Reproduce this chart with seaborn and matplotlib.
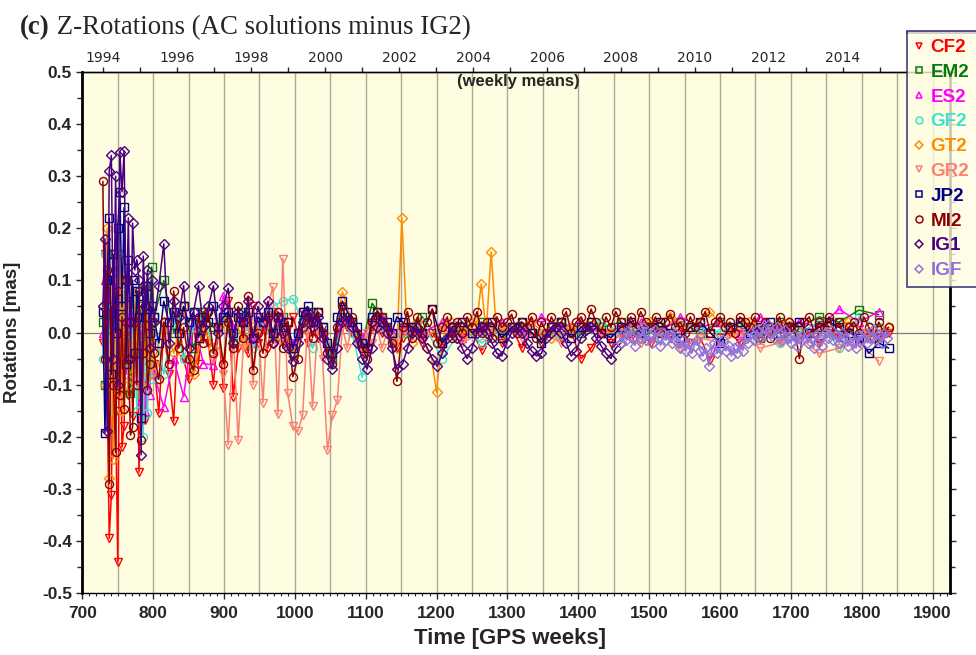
import numpy as np
import pandas as pd
import matplotlib
matplotlib.use("Agg")
import matplotlib.pyplot as plt
import matplotlib.transforms as mtrans
import seaborn as sns
from matplotlib.ticker import MultipleLocator, FormatStrFormatter, FixedLocator
from matplotlib.lines import Line2D

# ---------------- data (weekly means, mas) ----------------
# early segment: weeks 729, 732, ... (step 3)
IG1_E = [0.05, 0.18, -0.19, 0.31, 0.34, -0.05, 0.30, -0.10, 0.347, 0.27, 0.348, 0.02,
         0.22, -0.05, 0.21, 0.12, 0.14, 0.10, -0.235, 0.147, 0.05, 0.12, -0.03, 0.10]
MI2_E = [0.29, -0.05, 0.12, -0.29, 0.05, -0.10, -0.23, 0.08, -0.12, 0.03, -0.146, 0.10,
         -0.05, -0.197, -0.181, 0.02, -0.10, 0.08, -0.206, -0.04, 0.05, -0.11, -0.06, 0.02]
JP2_E = [0.04, -0.192, 0.10, 0.22, -0.08, 0.15, 0.00, 0.20, 0.27, 0.05, 0.24, -0.06,
         0.14, 0.02, 0.10, -0.04, 0.08, 0.03, -0.164, 0.07, 0.03, 0.09, 0.00, 0.05]
CF2_E = [-0.02, 0.15, -0.10, -0.395, -0.312, 0.05, -0.15, -0.44, 0.10, -0.22, -0.18, 0.06,
         -0.12, 0.02, -0.16, -0.05, 0.03, -0.268, -0.10, -0.05, -0.168, 0.00, -0.08, -0.02]
EM2_E = [0.02, -0.10, 0.15, 0.05, -0.08, 0.10, -0.03, 0.12, 0.00, 0.08, -0.05, 0.10,
         0.02, -0.117, 0.06, 0.00, 0.08, -0.04, 0.05, 0.02, 0.09, -0.02, 0.04, 0.126]
ES2_E = [0.00, 0.10, -0.05, 0.08, 0.02, -0.06, 0.12, 0.00, 0.06, -0.04, 0.05, -0.08,
         0.03, -0.02, 0.04, -0.10, 0.02, -0.06, -0.13, 0.00, -0.15, -0.05, -0.12, 0.01]
GF2_E = [-0.05, 0.15, 0.00, -0.15, 0.10, 0.05, -0.08, 0.12, 0.03, -0.06, 0.08, 0.00,
         -0.10, 0.05, -0.03, 0.07, -0.15, 0.02, -0.05, -0.20, 0.04, -0.155, 0.00, -0.09]
GT2_E = [0.05, -0.10, 0.20, -0.28, 0.10, -0.242, 0.08, -0.05, 0.15, -0.15, 0.05, 0.10,
         -0.10, 0.02, -0.08, 0.06, -0.02, 0.04, -0.10, 0.01, -0.05, 0.03, -0.08, 0.00]

# middle segment: weeks 801, 808, ... (step 7)
IG1_M = [0.02, 0.09, 0.17, -0.02, 0.06, 0.03, 0.09, -0.03, 0.04, 0.09,
         0.01, 0.05, 0.09, 0.00, 0.05, 0.085, -0.02, 0.04, 0.02, 0.06,
         -0.01, 0.05, 0.02, 0.06, -0.02, 0.03, 0.00, -0.03, -0.055, -0.02,
         0.02, 0.04, 0.01, 0.03, -0.01, -0.05, -0.07, -0.03, 0.02, 0.03,
         0.01, -0.02, -0.05, -0.07, -0.03, 0.01, 0.02, 0.00, -0.03, -0.07]
MI2_M = [-0.04, -0.09, 0.02, -0.06, 0.08, -0.03, 0.01, -0.05, -0.072, 0.03,
         -0.02, 0.04, -0.04, 0.01, -0.06, 0.02, -0.03, 0.05, -0.01, 0.07,
         -0.072, 0.00, -0.04, 0.03, -0.02, 0.04, -0.03, 0.02, -0.085, -0.05,
         0.01, 0.03, -0.01, 0.04, 0.00, -0.04, -0.06, 0.01, 0.05, 0.02,
         0.03, 0.00, -0.03, -0.05, 0.02, 0.04, 0.03, 0.01, -0.02, -0.094]
JP2_M = [0.03, -0.02, 0.06, 0.02, 0.04, 0.00, 0.05, 0.02, 0.04, -0.01,
         0.03, 0.02, 0.05, 0.01, 0.03, 0.04, 0.00, 0.03, 0.02, 0.04,
         -0.01, 0.03, 0.02, 0.04, 0.00, 0.03, 0.01, 0.02, -0.03, 0.00,
         0.04, 0.05, 0.02, 0.04, 0.01, -0.02, -0.04, 0.03, 0.06, 0.04,
         0.02, 0.01, -0.02, -0.03, 0.03, 0.04, 0.02, 0.02, 0.00, 0.03]
CF2_M = [-0.06, -0.155, 0.01, -0.08, -0.17, 0.03, -0.05, -0.09, 0.02, -0.06,
         0.04, -0.02, -0.10, 0.01, -0.107, 0.06, -0.123, -0.03, 0.02, -0.04,
         0.05, -0.02, 0.01, -0.03, 0.04, -0.01, 0.02, -0.02, 0.03, 0.00,
         0.04, -0.02, 0.02, -0.01, 0.01, -0.03, -0.05, 0.00, 0.02, 0.01,
         0.00, -0.01, -0.02, -0.04, 0.01, 0.02, 0.00, 0.01, -0.02, -0.03]
# middle segment, sparser: weeks 801, 815, ... (step 14)
EM2_M = [0.03, 0.10, 0.00, 0.05, -0.03, 0.04, 0.01, 0.03, -0.02, 0.04, 0.00, 0.02, -0.01,
         0.03, -0.04, 0.02, 0.04, 0.00, -0.05, 0.03, 0.02, -0.02, 0.056, 0.03, -0.01]
ES2_M = [-0.08, -0.143, -0.05, -0.123, 0.02, -0.06, -0.062, 0.07, 0.01, 0.03, -0.02, 0.02, 0.00,
         0.03, -0.02, 0.01, 0.03, 0.00, -0.03, 0.02, 0.01, -0.01, 0.02, 0.03, 0.00]
GF2_M = [0.02, -0.08, 0.03, -0.05, 0.01, 0.03, -0.03, 0.02, 0.00, 0.04, -0.03, 0.02, 0.05,
         0.06, 0.065, 0.02, -0.03, 0.01, -0.06, 0.02, 0.00, -0.086, 0.03, 0.01, -0.02]
GT2_M = [-0.06, 0.02, -0.04, 0.05, -0.08, 0.01, -0.03, 0.02, 0.04, -0.02, 0.01, 0.03, -0.01,
         0.02, -0.04, 0.01, 0.03, 0.00, -0.03, 0.078, 0.02, -0.02, 0.01, 0.02, -0.01]
# GR2 starts later: weeks 885, 892, ... (step 7)
GR2_M = [-0.05, 0.02, -0.08, -0.215, 0.00, -0.207, -0.03, 0.03, -0.10, 0.02,
         -0.135, 0.05, 0.088, -0.157, 0.142, -0.117, -0.18, -0.19, -0.159, 0.02,
         -0.142, 0.01, -0.05, -0.226, -0.158, -0.13, 0.01, -0.03, 0.02, -0.02,
         -0.04, 0.00, -0.02, 0.01, -0.03, 0.00, -0.02, -0.01]
# GT2 outlier period: weeks 1144, 1151, ... (step 7)
GT2_S = [-0.03, 0.22, 0.01, -0.02, 0.02, 0.00, -0.03, -0.05, -0.115, -0.02, 0.01,
         0.02, -0.01, 0.01, 0.00, 0.02, 0.01, 0.093, 0.00, 0.155, 0.01, -0.01]

# late segment, dense: weeks 1152, 1159, ... (step 7)
IG1_L = [-0.06, -0.03, 0.00, 0.01, -0.01, -0.03, -0.05, -0.065, -0.04, -0.01,
         0.01, -0.01, -0.03, -0.05, -0.03, 0.00, 0.01, 0.00, -0.02, -0.04,
         -0.045, -0.02, 0.00, 0.01, 0.00, -0.02, -0.035, -0.045, -0.04, -0.01,
         0.00, 0.01, 0.00, -0.02, -0.045, -0.035, -0.01, 0.005, 0.01, -0.01,
         -0.025, -0.04, -0.05, -0.03, -0.02]
MI2_L = [0.01, 0.04, -0.01, 0.03, 0.00, 0.02, 0.045, -0.02, 0.01, 0.03,
         -0.01, 0.02, 0.00, 0.03, 0.01, 0.04, 0.00, 0.02, -0.01, 0.03,
         0.01, 0.02, 0.035, 0.00, 0.02, 0.01, 0.03, -0.01, 0.02, 0.00,
         0.03, 0.01, 0.02, 0.04, 0.00, 0.02, 0.03, 0.01, 0.045, 0.02,
         0.00, 0.03, 0.01, 0.04, 0.02, 0.00, 0.03, 0.01, 0.04, 0.02,
         0.01, 0.03, 0.00, 0.02, 0.035, 0.01, 0.02, 0.00, 0.03, 0.01,
         0.02, 0.04, 0.00, 0.02, 0.03, 0.01, 0.02, 0.00, 0.03, 0.02,
         0.01, 0.03, 0.00, 0.02, -0.01, 0.01, 0.03, 0.00, 0.02, 0.01,
         -0.05, 0.02, 0.03, 0.00, 0.02, 0.01, 0.03, 0.00, 0.02, -0.01,
         0.01, 0.02, 0.00, 0.03, 0.01, -0.01, 0.02, 0.00, 0.01]
# late segment: weeks 1152, 1166, ... (step 14)
JP2_L = [0.02, 0.01, 0.00, 0.045, -0.02, 0.01, 0.02, 0.00, 0.01, 0.02,
         -0.01, 0.01, 0.02, 0.00, -0.02, 0.01, 0.02, -0.01, 0.01, 0.02,
         0.00, -0.01, 0.01, 0.02, 0.00, 0.01, 0.02, 0.00, -0.01, 0.01,
         0.02, 0.00, -0.02, 0.01, 0.02, 0.00, 0.01, 0.02, 0.00, 0.01,
         0.02, 0.00, 0.01, 0.02, 0.01, 0.00, -0.01, -0.04, -0.02, -0.03]
CF2_L = [-0.01, 0.01, -0.02, 0.00, -0.03, 0.01, -0.01, 0.00, -0.034, 0.00,
         -0.02, 0.01, -0.03, 0.00, -0.02, 0.01, -0.01, 0.00, -0.05, -0.03,
         0.00, -0.02, 0.00, -0.01, 0.01, -0.02, 0.00, -0.01, 0.01, -0.02,
         -0.01, -0.053, -0.01, 0.00, -0.02, 0.01, -0.01, 0.00, -0.02, 0.01,
         -0.01, 0.00, -0.02, 0.00, -0.01, 0.01, -0.02, 0.00, -0.01, 0.00]
# late segment, sparser: weeks 1152, 1180, ... (step 28)
EM2_L = [0.00, 0.03, -0.02, 0.01, 0.02, 0.00, 0.01, -0.01, 0.02, 0.00, 0.01, 0.02, -0.01,
         0.01, 0.02, 0.00, 0.02, 0.01, -0.01, 0.02, 0.01, 0.03, 0.02, 0.043, 0.034]
ES2_L = [0.01, 0.00, 0.02, -0.01, 0.01, 0.02, 0.00, 0.03, 0.01, 0.02, 0.00, 0.01, 0.02,
         0.00, 0.03, 0.01, 0.02, 0.00, 0.03, 0.01, 0.02, 0.01, 0.045, 0.02, 0.04]
GF2_L = [0.00, 0.02, -0.05, 0.01, -0.02, 0.01, 0.02, 0.00, -0.01, 0.01, 0.02, 0.00, 0.01,
         -0.01, 0.02, 0.01, 0.00, 0.02, 0.01, -0.02, 0.00, 0.02, -0.03, 0.03, 0.01]
GR2_L = [0.00, -0.01, 0.01, -0.02, 0.00, 0.01, -0.01, 0.00, -0.02, 0.01, 0.00, -0.01, -0.02,
         0.00, -0.03, -0.01, -0.02, 0.00, -0.03, -0.02, -0.01, -0.04, -0.03, -0.02, -0.055]
# GT2 late: weeks 1305, 1333, ... (step 28)
GT2_L = [0.01, 0.02, -0.01, 0.01, 0.02, 0.00, 0.01, 0.02, 0.03, 0.01,
         0.04, 0.00, 0.02, 0.01, 0.02, 0.00, 0.01, 0.02, 0.00, 0.01]
# IGF: weeks 1460, 1464, ... (step 4)
IGF_L = [-0.02, 0.00, -0.015, 0.005, -0.01, -0.025, 0.00, -0.01, 0.01, -0.015,
         -0.005, -0.02, 0.005, -0.01, -0.025, 0.00, -0.015, -0.005, -0.02, 0.00,
         -0.02, -0.03, -0.015, -0.035, -0.02, -0.04, -0.025, -0.015, -0.035, -0.045,
         -0.03, -0.064, -0.035, -0.02, -0.04, -0.03, -0.015, -0.035, -0.025, -0.045,
         -0.03, -0.04, -0.02, -0.035, -0.01, -0.02, 0.00, -0.015, 0.005, -0.01,
         0.01, -0.005, 0.015, 0.00, -0.01, 0.01, 0.00, -0.015, 0.005, -0.01,
         -0.02, -0.005, -0.025, -0.01, -0.015, 0.00, -0.02, -0.01, -0.03, -0.005,
         -0.015, -0.025, 0.00, -0.01, 0.005, -0.015, -0.005, -0.02, 0.00, -0.01,
         -0.025, -0.01, -0.02, -0.03, -0.005, -0.015, 0.00, -0.02, -0.01, 0.005,
         -0.015, -0.005, -0.02, 0.00, -0.01]

SERIES = ["CF2", "EM2", "ES2", "GF2", "GT2", "GR2", "JP2", "MI2", "IG1", "IGF"]
COLORS = ["#FF0000", "#0A7A0A", "#FF00FF", "#40E0D0", "#FF8C00",
          "#FA8072", "#00008B", "#8B0000", "#4B0082", "#9370DB"]
MARKERS = ["v", "s", "^", "o", "D", "v", "s", "o", "D", "D"]
YEAR_LABELS = [1994, 1996, 1998, 2000, 2002, 2004, 2006, 2008, 2010, 2012, 2014]
SEGMENTS = {
    "CF2": [(729, 3, CF2_E), (801, 7, CF2_M), (1152, 14, CF2_L)],
    "EM2": [(729, 3, EM2_E), (801, 14, EM2_M), (1152, 28, EM2_L)],
    "ES2": [(729, 3, ES2_E), (801, 14, ES2_M), (1152, 28, ES2_L)],
    "GF2": [(729, 3, GF2_E), (801, 14, GF2_M), (1152, 28, GF2_L)],
    "GT2": [(729, 3, GT2_E), (801, 14, GT2_M), (1144, 7, GT2_S), (1305, 28, GT2_L)],
    "GR2": [(885, 7, GR2_M), (1152, 28, GR2_L)],
    "JP2": [(729, 3, JP2_E), (801, 7, JP2_M), (1152, 14, JP2_L)],
    "MI2": [(729, 3, MI2_E), (801, 7, MI2_M), (1152, 7, MI2_L)],
    "IG1": [(729, 3, IG1_E), (801, 7, IG1_M), (1152, 7, IG1_L)],
    "IGF": [(1460, 4, IGF_L)],
}

rows = []
for name in SERIES:
    for start, step, vals in SEGMENTS[name]:
        wk = start + step * np.arange(len(vals))
        for w, v in zip(wk, vals):
            rows.append((name, w, v))
df = pd.DataFrame(rows, columns=["series", "week", "rot"])

# ---------------- figure ----------------
sns.set_style("ticks")
plt.rcParams["axes.unicode_minus"] = False
SANS = ["Liberation Sans", "DejaVu Sans"]
SERIF = ["Liberation Serif", "DejaVu Serif"]
NAVY = "#22226E"

fig = plt.figure(figsize=(9.76, 6.55), dpi=100)
ax = fig.add_axes([82.3 / 976, 1 - 593 / 655, 868 / 976, 521 / 655])
ax.set_facecolor("#FFFDE1")

for w in np.arange(750, 1925, 50):
    ax.axvline(w, color="#ABA894", lw=1.0, zorder=0.5)
ax.axhline(0, color="#7A7A7A", lw=0.9, zorder=0.6)

for name, col, mk in zip(SERIES, COLORS, MARKERS):
    sub = df[df.series == name]
    ms = {"D": 4.9, "v": 6.3, "^": 6.3, "o": 5.8, "s": 5.3}[mk]
    sns.lineplot(data=sub, x="week", y="rot", ax=ax, color=col, marker=mk,
                 markersize=ms, markerfacecolor="none", markeredgecolor=col,
                 markeredgewidth=1.0, linewidth=1.1, estimator=None, sort=False,
                 legend=False, zorder=2)

ax.set_xlim(700, 1925)
ax.set_ylim(-0.5, 0.5)
ax.xaxis.set_major_locator(MultipleLocator(100))
ax.xaxis.set_minor_locator(MultipleLocator(10))
ax.yaxis.set_major_locator(MultipleLocator(0.1))
ax.yaxis.set_minor_locator(MultipleLocator(0.05))
ax.yaxis.set_major_formatter(FormatStrFormatter("%.1f"))

for lab in ax.get_xticklabels() + ax.get_yticklabels():
    lab.set_family(SANS)
    lab.set_weight("bold")
    lab.set_size(12.5)

ax.tick_params(axis="y", which="major", direction="out", left=True, right=True,
               labelright=False, length=4, width=1, pad=3.5)
ax.tick_params(axis="y", which="minor", direction="out", left=True, right=True,
               length=3.5, width=1)
ax.tick_params(axis="x", which="major", direction="out", bottom=True, top=False,
               length=4.5, width=1, pad=5)
ax.tick_params(axis="x", which="minor", direction="out", bottom=True, top=False,
               length=2.2, width=0.8)

for side in ("left", "right"):
    ax.spines[side].set_linewidth(2.0)
    ax.spines[side].set_color("black")
for side in ("top", "bottom"):
    ax.spines[side].set_linewidth(1.0)
    ax.spines[side].set_color("black")

ax.set_xlabel("Time [GPS weeks]", family=SANS, weight="bold", size=16)
ax.xaxis.set_label_coords(0.4927, -0.0864)
ax.xaxis.label.set_va("center")
ax.set_ylabel("Rotations [mas]", family=SANS, weight="bold", size=13.5)
ax.yaxis.set_label_coords(-61.5 / 868, 0.5)


# top calendar axis
def week2year(w):
    return 1980.0137 + np.asarray(w, dtype=float) / 52.1786


def year2week(y):
    return (np.asarray(y, dtype=float) - 1980.0137) * 52.1786


sec = ax.secondary_xaxis("top", functions=(week2year, year2week))
sec.xaxis.set_major_locator(FixedLocator(YEAR_LABELS))
sec.xaxis.set_minor_locator(MultipleLocator(1))
sec.xaxis.set_major_formatter(FormatStrFormatter("%d"))
sec.tick_params(which="both", direction="out", length=3.5, width=1, pad=1.5,
                labelsize=10)
sec.spines["top"].set_linewidth(1.0)

ax.text(0.502, 0.981, "(weekly means)", transform=ax.transAxes, ha="center",
        va="center", family=SANS, weight="bold", size=12)

# title
t1 = fig.text(20 / 976, 1 - 34 / 655, "(c)", family=SERIF,
              weight="bold", size=19.3, ha="left", va="baseline")
fig.canvas.draw()
ax.annotate(" Z-Rotations (AC solutions minus IG2)", xy=(1, 0), xycoords=t1,
            ha="left", va="bottom", family=SERIF, size=19.3,
            annotation_clip=False)

# legend (extends past the right edge of the figure, as in the original)
handles = [Line2D([], [], linestyle="none", marker=mk, color=col,
                  markerfacecolor="none", markeredgecolor=col,
                  markersize=(4.3 if mk == "D" else 5.0), markeredgewidth=1.1)
           for col, mk in zip(COLORS, MARKERS)]
leg = fig.legend(handles, SERIES, loc="upper left", mode="expand",
                 bbox_to_anchor=(907 / 976, 1 - 31 / 655 - 0.01, 95 / 976, 0.01),
                 bbox_transform=fig.transFigure, borderaxespad=0,
                 prop={"family": SANS, "weight": "bold", "size": 13.6},
                 handlelength=0.42, handletextpad=0.4, labelspacing=0.4,
                 borderpad=0.42, frameon=True, fancybox=False)
leg.get_frame().set_facecolor("#FFFDE1")
leg.get_frame().set_edgecolor(NAVY)
leg.get_frame().set_linewidth(1.3)
for txt, col in zip(leg.get_texts(), COLORS):
    txt.set_color(col)

fig.canvas.draw()
bb = leg.get_window_extent()
fig.add_artist(Line2D([bb.x0, bb.x1], [bb.y1 - 1, bb.y1 - 1],
                      transform=mtrans.IdentityTransform(), color=NAVY, lw=2.2))

fig.savefig("out.png", dpi=100)
